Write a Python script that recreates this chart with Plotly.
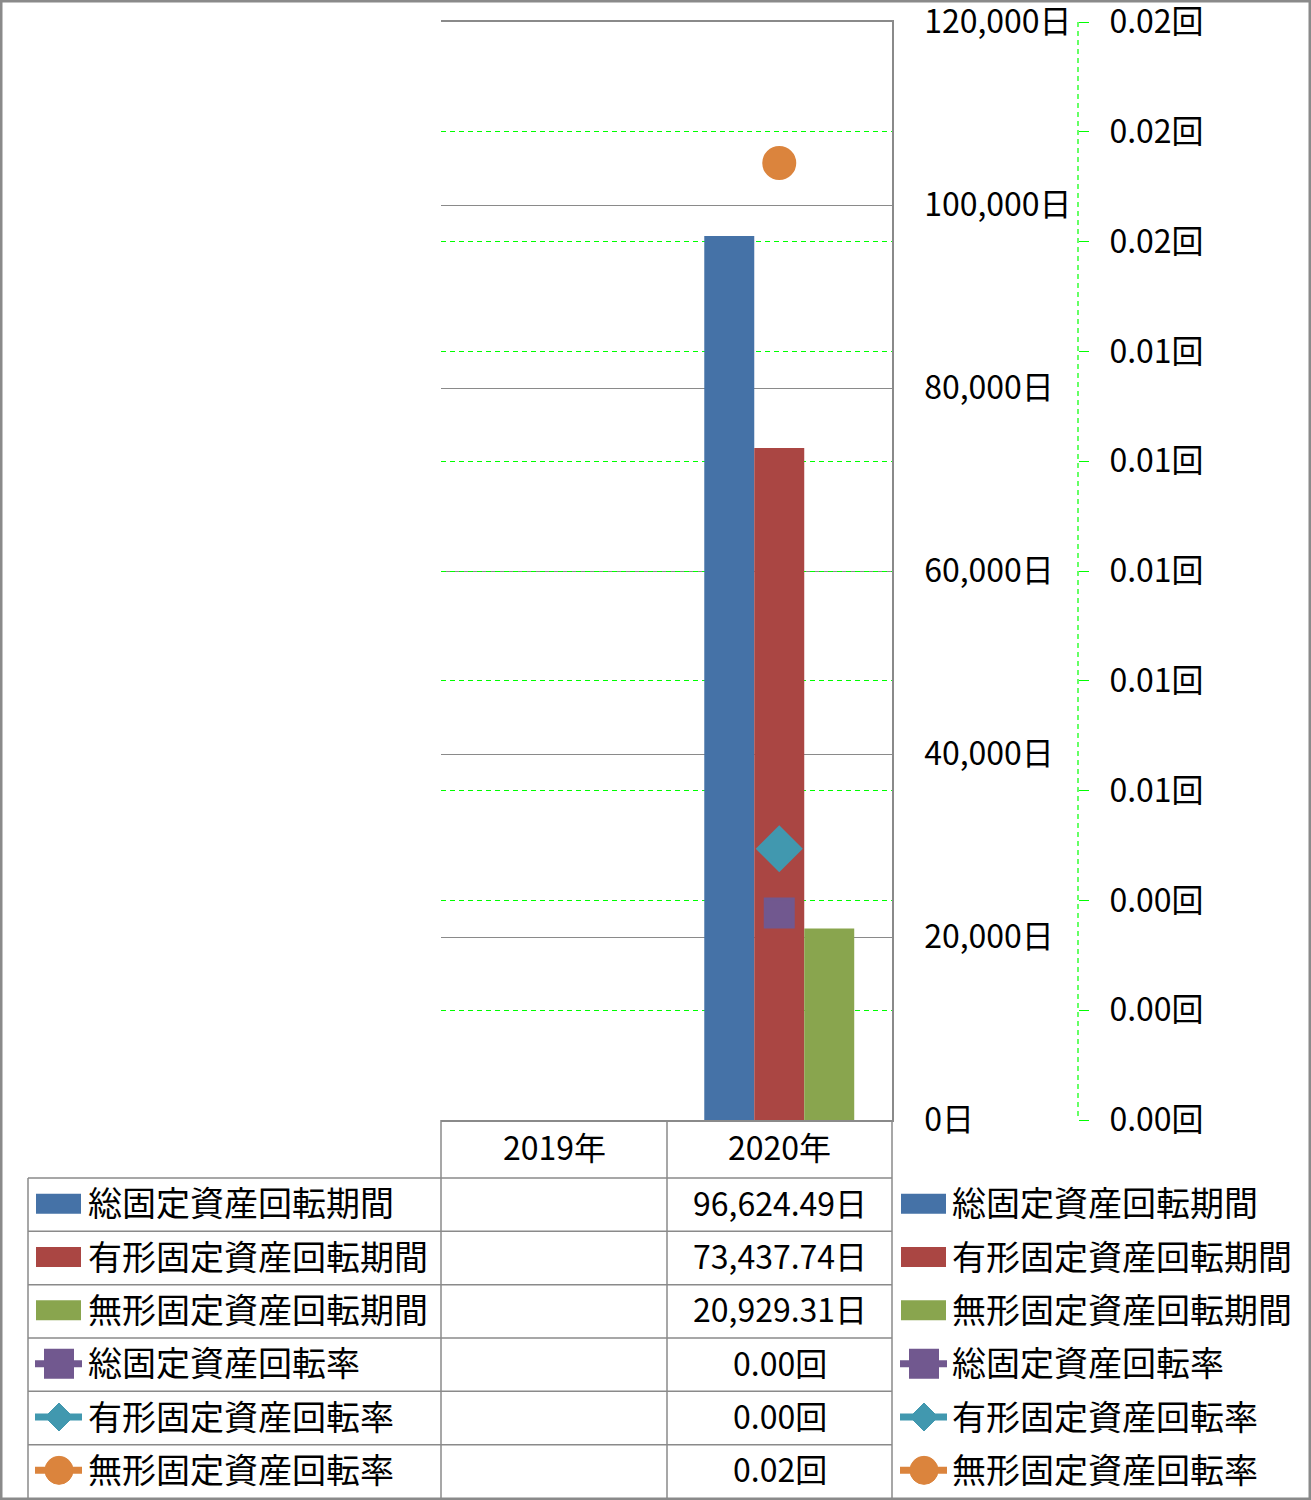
import plotly.graph_objects as go

# ---------------- data ----------------
categories = ['2019年', '2020年']
series_names = ['総固定資産回転期間', '有形固定資産回転期間', '無形固定資産回転期間',
                '総固定資産回転率', '有形固定資産回転率', '無形固定資産回転率']
total_period = [None, 96624.49]
tangible_period = [None, 73437.74]
intangible_period = [None, 20929.31]
total_rate = [None, 0.00377]
tangible_rate = [None, 0.00494]
intangible_rate = [None, 0.01743]

days_ticks = [0, 20000, 40000, 60000, 80000, 100000, 120000]
days_ticktext = [f'{v:,}日' for v in days_ticks]
rate_ticks = [round(i * 0.002, 4) for i in range(11)]
rate_ticktext = [f'{v:.2f}回' for v in rate_ticks]

# ---------------- styles ----------------
W, H = 1311, 1500
FONT = 'Noto Sans CJK JP'
C_BLUE, C_RED, C_GREEN = '#4572A7', '#AA4643', '#89A54E'
C_PURPLE, C_TEAL, C_ORANGE = '#71588F', '#4198AF', '#DB843D'
GRAY = '#8a8a8a'
GRID_GREEN = '#00FF00'
LABEL_SIZE = 34
NUM_SIZE = 32
TXT_DY = -3


def px(x):
    return x / W


def py(y):
    return 1 - y / H


X0, X1, YT, YB = 441, 892, 22, 1120
COLS = [441, 667, 892]
TABLE_L = 28
ROW0 = 1178
ROW_H = (1498 - ROW0) / 6

period_series = [total_period, tangible_period, intangible_period]
rate_series = [total_rate, tangible_rate, intangible_rate]
bar_colors = [C_BLUE, C_RED, C_GREEN]
rate_colors = [C_PURPLE, C_TEAL, C_ORANGE]
rate_symbols = ['square', 'diamond', 'circle']
rate_sizes = [28, 33, 31]

fig = go.Figure()
for name, vals, col in zip(series_names[:3], period_series, bar_colors):
    fig.add_trace(go.Bar(x=categories, y=vals, name=name, marker=dict(color=col, line=dict(width=0)),
                         yaxis='y', showlegend=False))
for name, vals, col, sym, sz in zip(series_names[3:], rate_series, rate_colors, rate_symbols, rate_sizes):
    fig.add_trace(go.Scatter(x=categories, y=vals, name=name, mode='lines+markers', yaxis='y2',
                             line=dict(color=col, width=7),
                             marker=dict(symbol=sym, size=sz, color=col, line=dict(color=col, width=3)),
                             showlegend=False))

shapes = []
annotations = []
line_style = dict(color=GRAY, width=1.5)


def hline(x0, x1, y):
    shapes.append(dict(type='line', xref='paper', yref='paper', x0=px(x0), x1=px(x1), y0=py(y), y1=py(y),
                       line=line_style))


def vline(x, y0, y1):
    shapes.append(dict(type='line', xref='paper', yref='paper', x0=px(x), x1=px(x), y0=py(y0), y1=py(y1),
                       line=line_style))


# table grid
for i in range(6):
    hline(TABLE_L, X1, ROW0 + i * ROW_H)
vline(TABLE_L, ROW0, 1498)
vline(X0, YB, 1498)
vline(COLS[1], YB, 1498)
vline(X1, YB, 1498)

# secondary axis dashed line
shapes.append(dict(type='line', xref='paper', yref='paper', x0=px(1078), x1=px(1078), y0=py(YT), y1=py(YB),
                   line=dict(color=GRID_GREEN, width=1.2, dash='5px,4px')))

# header cells
for i, cat in enumerate(categories):
    annotations.append(dict(x=px((COLS[i] + COLS[i + 1]) / 2), y=py(1149 + TXT_DY), xref='paper', yref='paper',
                            text=cat, showarrow=False, xanchor='center', yanchor='middle',
                            font=dict(family=FONT, size=NUM_SIZE, color='black')))

all_series = period_series + rate_series
all_colors = bar_colors + rate_colors
kinds = ['bar'] * 3 + rate_symbols


def key(kind, col, cx_left, cy):
    if kind == 'bar':
        shapes.append(dict(type='rect', xref='paper', yref='paper', x0=px(cx_left + 3), x1=px(cx_left + 48),
                           y0=py(cy - 10), y1=py(cy + 10), line=dict(width=0), fillcolor=col))
        return
    shapes.append(dict(type='line', xref='paper', yref='paper', x0=px(cx_left + 2), x1=px(cx_left + 49),
                       y0=py(cy), y1=py(cy), line=dict(color=col, width=7)))
    mx = cx_left + 26
    r = 14
    if kind == 'square':
        shapes.append(dict(type='rect', xref='paper', yref='paper', x0=px(mx - r), x1=px(mx + r),
                           y0=py(cy - r), y1=py(cy + r), line=dict(color=col, width=2), fillcolor=col))
    elif kind == 'circle':
        shapes.append(dict(type='circle', xref='paper', yref='paper', x0=px(mx - r), x1=px(mx + r),
                           y0=py(cy - r), y1=py(cy + r), line=dict(color=col, width=1), fillcolor=col))
    else:
        path = 'M {},{} L {},{} L {},{} L {},{} Z'.format(px(mx - r), py(cy), px(mx), py(cy - r),
                                                        px(mx + r), py(cy), px(mx), py(cy + r))
        shapes.append(dict(type='path', xref='paper', yref='paper', path=path,
                           line=dict(color=col, width=1), fillcolor=col))


for i, (name, vals, col, kind) in enumerate(zip(series_names, all_series, all_colors, kinds)):
    cy = ROW0 + ROW_H * (i + 0.5)
    ty = cy + TXT_DY
    key(kind, col, 33, cy - 1)
    annotations.append(dict(x=px(86), y=py(ty), xref='paper', yref='paper', text=name, showarrow=False,
                            xanchor='left', yanchor='middle', font=dict(family=FONT, size=LABEL_SIZE, color='black')))
    key(kind, col, 898, cy - 1)
    annotations.append(dict(x=px(950), y=py(ty), xref='paper', yref='paper', text=name, showarrow=False,
                            xanchor='left', yanchor='middle', font=dict(family=FONT, size=LABEL_SIZE, color='black')))
    unit = '日' if i < 3 else '回'
    for j in range(len(categories)):
        v = vals[j]
        if v is None:
            continue
        txt = f'{v:,.2f}{unit}'
        annotations.append(dict(x=px((COLS[j] + COLS[j + 1]) / 2), y=py(ty), xref='paper', yref='paper',
                                text=txt, showarrow=False, xanchor='center', yanchor='middle',
                                font=dict(family=FONT, size=NUM_SIZE, color='black')))

# outer border
shapes.append(dict(type='rect', xref='paper', yref='paper', x0=px(1.25), x1=px(1309.75), y0=py(1.25),
                   y1=py(1498.75), line=dict(color=GRAY, width=2.5)))

fig.update_layout(
    width=W, height=H, margin=dict(l=0, r=0, t=0, b=0, autoexpand=False),
    paper_bgcolor='white', plot_bgcolor='white',
    barmode='group', bargap=0.335, bargroupgap=0,
    showlegend=False,
    font=dict(family=FONT, size=NUM_SIZE, color='black'),
    xaxis=dict(domain=[px(X0), px(X1)], type='category', showticklabels=False, ticks='', showgrid=False,
               showline=True, mirror=True, linecolor=GRAY, linewidth=1.5, zeroline=False,
               automargin=False, fixedrange=True),
    yaxis=dict(domain=[py(YB), py(YT)], range=[0, 120000], tickmode='array', tickvals=days_ticks,
               ticktext=days_ticktext, side='right', showgrid=True, gridcolor=GRAY, gridwidth=1.3,
               showline=True, linecolor=GRAY, linewidth=1.5, ticks='', zeroline=False,
               automargin=False, ticklabeloverflow='allow',
               ticklabelstandoff=24, tickfont=dict(family=FONT, size=NUM_SIZE, color='black')),
    yaxis2=dict(overlaying='y', anchor='free', position=px(1078), side='right', range=[0, 0.02],
                tickmode='array', tickvals=rate_ticks, ticktext=rate_ticktext, showgrid=True,
                gridcolor=GRID_GREEN, gridwidth=1.2, griddash='5px,4px', showline=False, zeroline=False,
                ticks='outside', ticklen=10, tickcolor=GRID_GREEN, tickwidth=1.2,
                automargin=False, ticklabeloverflow='allow',
                ticklabelstandoff=14, tickfont=dict(family=FONT, size=NUM_SIZE, color='black')),
    shapes=shapes, annotations=annotations,
)

fig.write_html('out.html')
